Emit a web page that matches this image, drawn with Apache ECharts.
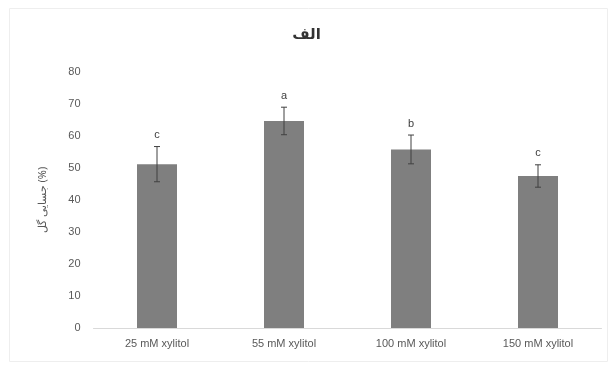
<!DOCTYPE html>
<html><head><meta charset="utf-8">
<script src="https://cdn.jsdelivr.net/npm/echarts@6/dist/echarts.min.js"></script>
<style>html,body{margin:0;padding:0;background:#fff}#c{width:613px;height:367px}</style>
</head><body><div id="c"></div>
<script>
const categories = ['25 mM xylitol', '55 mM xylitol', '100 mM xylitol', '150 mM xylitol'];
const values = [51.2, 64.7, 55.8, 47.5];
const errors = [5.5, 4.3, 4.5, 3.5];
const letters = ['c', 'a', 'b', 'c'];
const yTicks = {min: 0, max: 80, interval: 10};
const titleText = 'الف';
const yName = 'جسایی گل (%)';

const chart = echarts.init(document.getElementById('c'));
const errData = values.map((v, i) => [i, v - errors[i], v + errors[i], letters[i]]);
chart.setOption({
  backgroundColor: '#fff',
  animation: false,
  graphic: [{type: 'rect', shape: {x: 9.5, y: 8.5, width: 598, height: 353}, style: {fill: 'none', stroke: '#eeeeee', lineWidth: 1}, silent: true}],
  title: {text: titleText, left: 'center', top: 22,
    textStyle: {fontSize: 15, fontWeight: 'bold', color: '#333', fontFamily: 'Noto Sans, DejaVu Sans'}},
  grid: {left: 93.5, right: 11.5, top: 72, bottom: 39},
  xAxis: {type: 'category', data: categories,
    axisLine: {lineStyle: {color: '#d9d9d9'}}, axisTick: {show: false},
    axisLabel: {color: '#595959', fontSize: 11, margin: 10, fontFamily: 'Liberation Sans'}},
  yAxis: {type: 'value', min: yTicks.min, max: yTicks.max, interval: yTicks.interval,
    name: yName, nameLocation: 'middle', nameGap: 45, nameRotate: 90,
    nameTextStyle: {color: '#595959', fontSize: 11, fontFamily: 'Noto Sans'},
    splitLine: {show: false}, axisLine: {show: false}, axisTick: {show: false},
    axisLabel: {color: '#595959', fontSize: 11, margin: 13, fontFamily: 'Liberation Sans'}},
  series: [
    {type: 'bar', data: values, barWidth: 40, itemStyle: {color: '#7f7f7f'}},
    {type: 'custom', data: errData, z: 10,
      renderItem: function (params, api) {
        const x = api.value(0);
        const lo = api.coord([x, api.value(1)]);
        const hi = api.coord([x, api.value(2)]);
        const cap = 3;
        return {type: 'group', children: [
          {type: 'line', shape: {x1: lo[0], y1: lo[1], x2: hi[0], y2: hi[1]}, style: {stroke: '#404040', lineWidth: 1}},
          {type: 'line', shape: {x1: hi[0] - cap, y1: hi[1], x2: hi[0] + cap, y2: hi[1]}, style: {stroke: '#404040', lineWidth: 1}},
          {type: 'line', shape: {x1: lo[0] - cap, y1: lo[1], x2: lo[0] + cap, y2: lo[1]}, style: {stroke: '#404040', lineWidth: 1}},
          {type: 'text', x: hi[0], y: hi[1] - 6, style: {text: api.value(3), align: 'center', verticalAlign: 'bottom',
            fill: '#404040', fontSize: 11, fontFamily: 'Liberation Sans'}}
        ]};
      }}
  ]
});
</script>
</body></html>
